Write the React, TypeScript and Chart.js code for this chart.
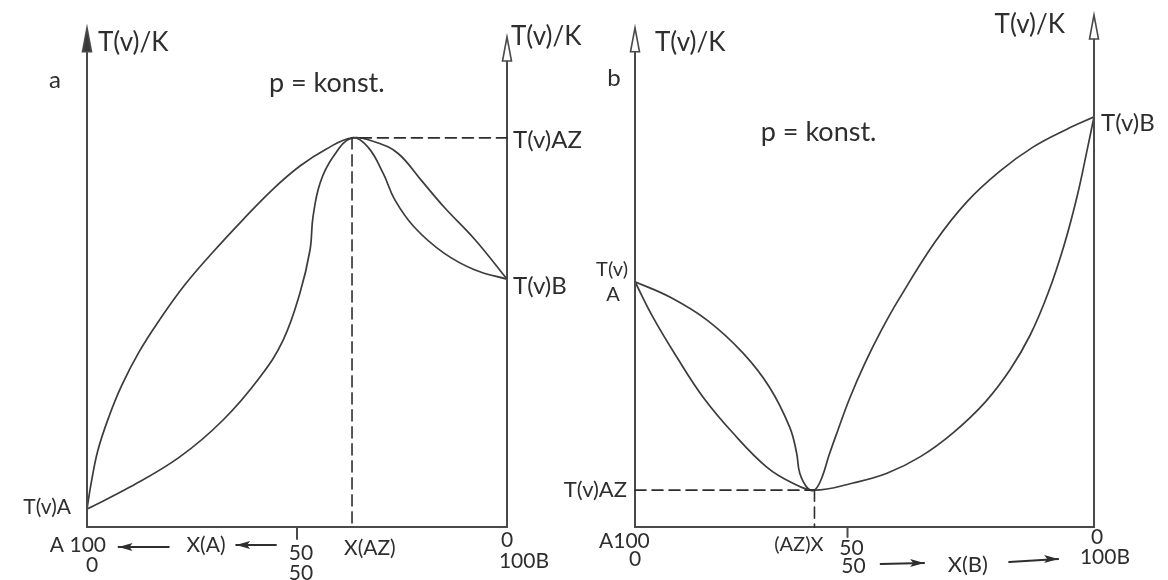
import React, { useEffect, useRef } from "react";
import { Chart, registerables } from "chart.js";
Chart.register(...registerables);

type P = [number, number];

// ---------- Panel a: maximum-boiling azeotrope (x = composition 0..100, y = temperature, arbitrary units) ----------
const A_T_A = 3.5;
const A_T_B = 48.4;
const A_AZ: P = [63.1, 76.0];
const A_LEFT_TOP = 97.5;
const A_RIGHT_TOP = 95.7;
const A_TICK = 50;
const A_DEW: P[] = [
  [0, 3.5], [1.0, 8.6], [2.6, 15.0], [5.2, 21.5], [8.3, 27.7], [12.4, 34.2], [17.4, 40.6],
  [23.3, 47.3], [30.0, 53.7], [37.1, 60.0], [44.3, 66.0], [50.7, 70.5], [56.9, 73.8], [63.1, 76.0],
  [68.6, 75.2], [74.0, 73.0], [79.5, 67.8], [85.0, 62.5], [92.4, 56.1], [100, 48.4],
];
const A_BOIL: P[] = [
  [0, 3.5], [10.2, 7.8], [22.1, 13.7], [32.4, 20.9], [41.2, 29.3], [46.7, 36.5], [50.7, 45.7],
  [53.1, 54.1], [53.8, 60.5], [55.5, 67.2], [58.6, 72.3], [63.1, 76.0],
  [66.9, 74.2], [70.5, 69.1], [73.3, 63.9], [77.9, 58.6], [85.0, 53.5], [92.4, 50.2], [100, 48.4],
];

// ---------- Panel b: minimum-boiling azeotrope ----------
const B_T_A = 47.9;
const B_T_B = 80.1;
const B_AZ: P = [39.1, 7.2];
const B_LEFT_TOP = 97.5;
const B_RIGHT_TOP = 100;
const B_TICK = 46.3;
const B_DEW: P[] = [
  [0, 47.9], [7.6, 44.9], [15.7, 40.4], [23.5, 34.0], [29.3, 27.3], [33.7, 19.5], [35.2, 14.5],
  [35.9, 10.5], [37.6, 7.6], [39.1, 7.2], [40.7, 9.6], [42.3, 14.1], [44.2, 18.9], [46.8, 25.2],
  [50.1, 32.0], [53.6, 38.3], [57.5, 44.5], [65.4, 55.7], [72.3, 63.5], [79.5, 69.5], [86.7, 74.2],
  [94.1, 77.7], [100, 80.1],
];
const B_BOIL: P[] = [
  [0, 47.9], [3.9, 41.0], [9.1, 33.2], [14.8, 25.4], [21.3, 18.4], [28.7, 11.7], [34.3, 8.6],
  [39.1, 7.2], [47.5, 8.6], [54.9, 10.5], [62.1, 13.7], [69.3, 18.4], [76.3, 24.4], [81.7, 30.7],
  [86.1, 37.5], [90.0, 45.7], [93.5, 55.1], [96.3, 64.5], [98.5, 73.6], [100, 80.1],
];

const INK = "#2e2e2e";
const AXIS = "#4a4a4a";
const CURVE = "#3c3c3c";
const FONT = (s: number) => `400 ${s}px Lato, "DejaVu Sans", sans-serif`;

type Lbl = { t: string; x: number; y: number; dx?: number; dy?: number; a?: CanvasTextAlign; s?: number };

function arrowHead(ctx: CanvasRenderingContext2D, x: number, tip: number, filled: boolean) {
  ctx.save();
  ctx.beginPath();
  ctx.moveTo(x, tip);
  ctx.lineTo(x - 4.5, tip + 24);
  ctx.lineTo(x + 4.5, tip + 24);
  ctx.closePath();
  ctx.fillStyle = filled ? "#3a3a3a" : "#ffffff";
  ctx.fill();
  ctx.lineWidth = 1.6;
  ctx.strokeStyle = AXIS;
  ctx.stroke();
  ctx.restore();
}

function hArrow(ctx: CanvasRenderingContext2D, x1: number, y1: number, x2: number, y2: number) {
  ctx.save();
  ctx.strokeStyle = INK;
  ctx.fillStyle = INK;
  ctx.lineWidth = 1.8;
  ctx.beginPath();
  ctx.moveTo(x1, y1);
  ctx.lineTo(x2, y2);
  ctx.stroke();
  const dir = Math.sign(x2 - x1);
  ctx.beginPath();
  ctx.moveTo(x2, y2);
  ctx.lineTo(x2 - dir * 14, y2 - 4);
  ctx.lineTo(x2 - dir * 11, y2);
  ctx.lineTo(x2 - dir * 14, y2 + 4);
  ctx.closePath();
  ctx.fill();
  ctx.restore();
}

type PanelDef = {
  leftTop: number;
  rightTop: number;
  tick: number;
  tickLen: number;
  az: P;
  dashH: [number, number];
  leftArrowFilled: boolean;
  labels: Lbl[];
  arrows: [number, number, number, number][];
};

function makeOverlay(def: PanelDef) {
  return {
    id: "frame",
    afterDatasetsDraw(chart: any) {
      const ctx: CanvasRenderingContext2D = chart.ctx;
      const xs = chart.scales.x;
      const ys = chart.scales.y;
      const X = (v: number) => xs.getPixelForValue(v);
      const Y = (v: number) => ys.getPixelForValue(v);
      ctx.save();
      ctx.strokeStyle = AXIS;
      ctx.lineWidth = 2;
      ctx.lineCap = "round";
      ctx.beginPath();
      ctx.moveTo(X(0), Y(def.leftTop) + 8);
      ctx.lineTo(X(0), Y(0));
      ctx.lineTo(X(100), Y(0));
      ctx.lineTo(X(100), Y(def.rightTop) + 8);
      ctx.stroke();
      arrowHead(ctx, X(0), Y(def.leftTop), def.leftArrowFilled);
      arrowHead(ctx, X(100), Y(def.rightTop), false);
      ctx.lineWidth = 2;
      ctx.beginPath();
      ctx.moveTo(X(def.tick), Y(0));
      ctx.lineTo(X(def.tick), Y(0) + def.tickLen);
      ctx.stroke();
      ctx.setLineDash([11, 6]);
      ctx.lineWidth = 1.6;
      ctx.strokeStyle = INK;
      ctx.beginPath();
      ctx.moveTo(X(def.dashH[0]), Y(def.az[1]));
      ctx.lineTo(X(def.dashH[1]), Y(def.az[1]));
      ctx.moveTo(X(def.az[0]), Y(def.az[1]));
      ctx.lineTo(X(def.az[0]), Y(0));
      ctx.stroke();
      ctx.setLineDash([]);
      for (const [x1, x2, dy1, dy2] of def.arrows) {
        hArrow(ctx, X(x1), Y(0) + dy1, X(x2), Y(0) + dy2);
      }
      ctx.fillStyle = INK;
      ctx.textBaseline = "middle";
      for (const l of def.labels) {
        ctx.font = FONT(l.s ?? 22);
        ctx.textAlign = l.a ?? "center";
        ctx.fillText(l.t, X(l.x) + (l.dx ?? 0), Y(l.y) + (l.dy ?? 0));
      }
      ctx.restore();
    },
  };
}

const PANEL_A: PanelDef = {
  leftTop: A_LEFT_TOP,
  rightTop: A_RIGHT_TOP,
  tick: A_TICK,
  tickLen: 12,
  az: A_AZ,
  dashH: [A_AZ[0] + 2, 100],
  leftArrowFilled: true,
  arrows: [
    [19.5, 7.5, 20, 20],
    [45, 35.5, 18, 18],
  ],
  labels: [
    { t: "T(v)/K", x: 0, y: A_LEFT_TOP, dx: 11, dy: 15, a: "left", s: 26 },
    { t: "a", x: 0, y: A_LEFT_TOP, dx: -32, dy: 52, s: 24 },
    { t: "p = konst.", x: 57.1, y: 86.7, s: 27 },
    { t: "T(v)/K", x: 100, y: A_RIGHT_TOP, dx: 4, dy: 0, a: "left", s: 26 },
    { t: "T(v)AZ", x: 100, y: A_AZ[1], dx: 6, dy: 2, a: "left", s: 24 },
    { t: "T(v)B", x: 100, y: A_T_B, dx: 6, dy: 7, a: "left", s: 24 },
    { t: "T(v)A", x: 0, y: A_T_A, dx: -16, dy: -2, a: "right", s: 21 },
    { t: "A 100", x: 0, y: 0, dx: 19, dy: 18, a: "right", s: 21 },
    { t: "0", x: 0, y: 0, dx: 5, dy: 38, s: 21 },
    { t: "X(A)", x: 0, y: 0, dx: 119, dy: 18, s: 21 },
    { t: "50", x: A_TICK, y: 0, dx: 4, dy: 26, s: 21 },
    { t: "50", x: A_TICK, y: 0, dx: 4, dy: 46, s: 21 },
    { t: "X(AZ)", x: A_AZ[0], y: 0, dx: -8, dy: 21, a: "left", s: 21 },
    { t: "0", x: 100, y: 0, dx: 0, dy: 13, s: 21 },
    { t: "100B", x: 100, y: 0, dx: 17, dy: 34, s: 21 },
  ],
};

const PANEL_B: PanelDef = {
  leftTop: B_LEFT_TOP,
  rightTop: B_RIGHT_TOP,
  tick: B_TICK,
  tickLen: 10,
  az: B_AZ,
  dashH: [0, B_AZ[0]],
  leftArrowFilled: false,
  arrows: [
    [53.5, 63.0, 37, 36],
    [81.5, 92.2, 35, 32],
  ],
  labels: [
    { t: "T(v)/K", x: 0, y: B_LEFT_TOP, dx: 20, dy: 15, a: "left", s: 26 },
    { t: "b", x: 0, y: B_LEFT_TOP, dx: -21, dy: 50, s: 24 },
    { t: "p = konst.", x: 40, y: 77.1, s: 27 },
    { t: "T(v)/K", x: 100, y: B_RIGHT_TOP, dx: -29, dy: 10, a: "right", s: 26 },
    { t: "T(v)B", x: 100, y: B_T_B, dx: 7, dy: 6, a: "left", s: 24 },
    { t: "T(v)", x: 0, y: B_T_A, dx: -7, dy: -12, a: "right", s: 20 },
    { t: "A", x: 0, y: B_T_A, dx: -22, dy: 13, s: 20 },
    { t: "T(v)AZ", x: 0, y: B_AZ[1], dx: -8, dy: 0, a: "right", s: 22 },
    { t: "A100", x: 0, y: 0, dx: -36, dy: 14, a: "left", s: 21 },
    { t: "0", x: 0, y: 0, dx: 0, dy: 32, s: 21 },
    { t: "(AZ)X", x: B_AZ[0], y: 0, dx: 9, dy: 18, a: "right", s: 20 },
    { t: "50", x: B_TICK, y: 0, dx: 4, dy: 21, s: 21 },
    { t: "50", x: B_TICK, y: 0, dx: 6, dy: 39, s: 21 },
    { t: "X(B)", x: 72.5, y: 0, dx: 0, dy: 38, s: 22 },
    { t: "0", x: 100, y: 0, dx: 3, dy: 10, s: 21 },
    { t: "100B", x: 100, y: 0, dx: 11, dy: 30, s: 21 },
  ],
};

function curveDs(pts: P[]) {
  return {
    data: pts.map(([x, y]) => ({ x, y })),
    showLine: true,
    borderColor: CURVE,
    borderWidth: 1.7,
    pointRadius: 0,
    fill: false,
    tension: 0.4,
  };
}

function Panel(props: {
  left: number;
  width: number;
  pad: { left: number; right: number; top: number; bottom: number };
  dew: P[];
  boil: P[];
  def: PanelDef;
}) {
  const ref = useRef<HTMLCanvasElement | null>(null);
  useEffect(() => {
    if (!ref.current) return;
    const chart = new Chart(ref.current, {
      type: "scatter",
      data: { datasets: [curveDs(props.dew), curveDs(props.boil)] as any },
      options: {
        responsive: false,
        animation: false,
        devicePixelRatio: 1,
        events: [],
        layout: { padding: props.pad },
        scales: {
          x: { type: "linear", min: 0, max: 100, display: false },
          y: { type: "linear", min: 0, max: 100, display: false },
        },
        plugins: { legend: { display: false }, tooltip: { enabled: false } },
      },
      plugins: [makeOverlay(props.def) as any],
    });
    return () => chart.destroy();
  }, []);
  return (
    <canvas
      ref={ref}
      width={props.width}
      height={580}
      style={{ position: "absolute", left: props.left, top: 0, width: props.width, height: 580 }}
    />
  );
}

export default function App() {
  return (
    <div style={{ position: "fixed", left: 0, top: 0, width: 1168, height: 580, background: "#ffffff", overflow: "hidden" }}>
      <Panel left={0} width={600} pad={{ left: 87, right: 93, top: 15, bottom: 53 }} dew={A_DEW} boil={A_BOIL} def={PANEL_A} />
      <Panel left={540} width={628} pad={{ left: 95, right: 74, top: 15, bottom: 53 }} dew={B_DEW} boil={B_BOIL} def={PANEL_B} />
    </div>
  );
}
